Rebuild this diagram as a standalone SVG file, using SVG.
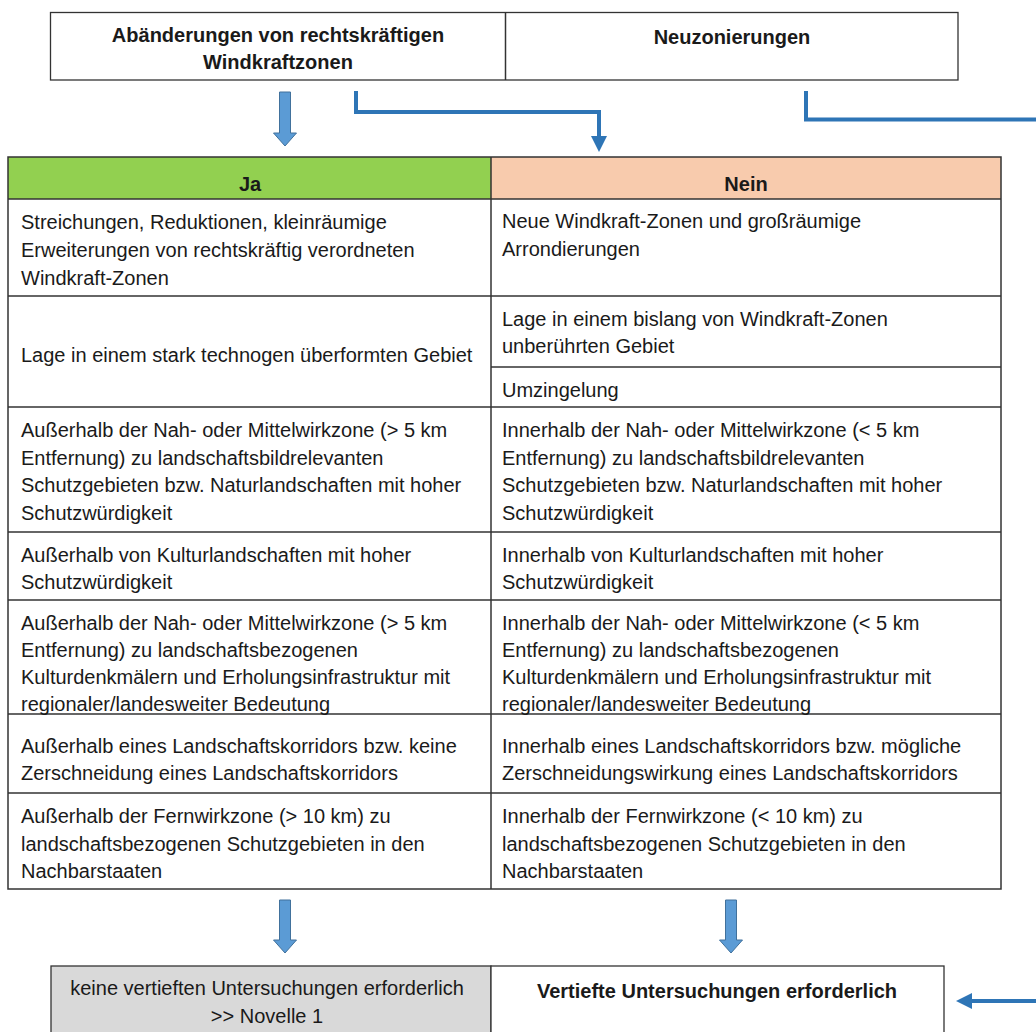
<svg xmlns="http://www.w3.org/2000/svg" width="1036" height="1032" viewBox="0 0 1036 1032">
<defs>
<style>
text{font-family:"Liberation Sans",Arial,sans-serif;font-size:20px;fill:#1a1a1a}
.b{font-weight:bold}
.c{text-anchor:middle}
.box{fill:#fff;stroke:#333;stroke-width:1.3}
.grid{stroke:#333;stroke-width:1.5;fill:none}
.blk{fill:#5B9BD5;stroke:#41719C;stroke-width:1}
.con{fill:none;stroke:#2E75B6;stroke-width:4}
</style>
<marker id="ah" markerUnits="userSpaceOnUse" markerWidth="18" markerHeight="18" refX="0" refY="8" orient="auto" viewBox="0 0 18 16">
<path d="M0,0 L16,8 L0,16 Z" fill="#2E75B6"/>
</marker>
</defs>
<rect width="1036" height="1032" fill="#fff"/>

<g id="top-header">
<rect class="box" x="50.5" y="12.5" width="907.5" height="67.5"/>
<line class="grid" x1="505.5" y1="12.5" x2="505.5" y2="80"/>
<text class="b c" x="278" y="42">Abänderungen von rechtskräftigen</text>
<text class="b c" x="278" y="69">Windkraftzonen</text>
<text class="b c" x="732" y="44">Neuzonierungen</text>
</g>

<g id="table">
<rect x="8" y="157" width="483" height="42" fill="#92D050"/>
<rect x="491" y="157" width="510" height="42" fill="#F8CBAD"/>
<rect class="grid" x="8" y="157" width="993" height="732"/>
<line class="grid" x1="491" y1="157" x2="491" y2="889"/>
<line class="grid" x1="8" y1="199" x2="1001" y2="199"/>
<line class="grid" x1="8" y1="296" x2="1001" y2="296"/>
<line class="grid" x1="491" y1="367" x2="1001" y2="367"/>
<line class="grid" x1="8" y1="407" x2="1001" y2="407"/>
<line class="grid" x1="8" y1="532" x2="1001" y2="532"/>
<line class="grid" x1="8" y1="600" x2="1001" y2="600"/>
<line class="grid" x1="8" y1="714" x2="1001" y2="714"/>
<line class="grid" x1="8" y1="793" x2="1001" y2="793"/>
<text class="b c" x="250" y="191">Ja</text>
<text class="b c" x="746" y="191">Nein</text>

<text x="21" y="229">Streichungen, Reduktionen, kleinräumige</text>
<text x="21" y="257">Erweiterungen von rechtskräftig verordneten</text>
<text x="21" y="285">Windkraft-Zonen</text>
<text x="502" y="228">Neue Windkraft-Zonen und großräumige</text>
<text x="502" y="256">Arrondierungen</text>

<text x="21" y="362">Lage in einem stark technogen überformten Gebiet</text>
<text x="502" y="326">Lage in einem bislang von Windkraft-Zonen</text>
<text x="502" y="353">unberührten Gebiet</text>
<text x="502" y="397">Umzingelung</text>

<text x="21" y="437">Außerhalb der Nah- oder Mittelwirkzone (&gt; 5 km</text>
<text x="21" y="465">Entfernung) zu landschaftsbildrelevanten</text>
<text x="21" y="492">Schutzgebieten bzw. Naturlandschaften mit hoher</text>
<text x="21" y="520">Schutzwürdigkeit</text>
<text x="502" y="437">Innerhalb der Nah- oder Mittelwirkzone (&lt; 5 km</text>
<text x="502" y="465">Entfernung) zu landschaftsbildrelevanten</text>
<text x="502" y="492">Schutzgebieten bzw. Naturlandschaften mit hoher</text>
<text x="502" y="520">Schutzwürdigkeit</text>

<text x="21" y="562">Außerhalb von Kulturlandschaften mit hoher</text>
<text x="21" y="589">Schutzwürdigkeit</text>
<text x="502" y="562">Innerhalb von Kulturlandschaften mit hoher</text>
<text x="502" y="589">Schutzwürdigkeit</text>

<text x="21" y="630">Außerhalb der Nah- oder Mittelwirkzone (&gt; 5 km</text>
<text x="21" y="657">Entfernung) zu landschaftsbezogenen</text>
<text x="21" y="684">Kulturdenkmälern und Erholungsinfrastruktur mit</text>
<text x="21" y="711">regionaler/landesweiter Bedeutung</text>
<text x="502" y="630">Innerhalb der Nah- oder Mittelwirkzone (&lt; 5 km</text>
<text x="502" y="657">Entfernung) zu landschaftsbezogenen</text>
<text x="502" y="684">Kulturdenkmälern und Erholungsinfrastruktur mit</text>
<text x="502" y="711">regionaler/landesweiter Bedeutung</text>

<text x="21" y="753">Außerhalb eines Landschaftskorridors bzw. keine</text>
<text x="21" y="780">Zerschneidung eines Landschaftskorridors</text>
<text x="502" y="753">Innerhalb eines Landschaftskorridors bzw. mögliche</text>
<text x="502" y="780">Zerschneidungswirkung eines Landschaftskorridors</text>

<text x="21" y="823">Außerhalb der Fernwirkzone (&gt; 10 km) zu</text>
<text x="21" y="851">landschaftsbezogenen Schutzgebieten in den</text>
<text x="21" y="878">Nachbarstaaten</text>
<text x="502" y="823">Innerhalb der Fernwirkzone (&lt; 10 km) zu</text>
<text x="502" y="851">landschaftsbezogenen Schutzgebieten in den</text>
<text x="502" y="878">Nachbarstaaten</text>
</g>

<g id="result-no">
<rect x="51" y="966" width="440" height="80" fill="#D9D9D9" stroke="#333" stroke-width="1.3"/>
<text class="c" x="267" y="995">keine vertieften Untersuchungen erforderlich</text>
<text class="c" x="267" y="1023">&gt;&gt; Novelle 1</text>
</g>

<g id="result-yes">
<rect class="box" x="491" y="966" width="453" height="80"/>
<text class="b c" x="717" y="998">Vertiefte Untersuchungen erforderlich</text>
</g>

<g id="connectors">
<path class="blk" d="M279.5,92 H290.5 V133 H296.5 L285,146 L273.5,133 H279.5 Z"/>
<path class="blk" d="M279.5,900 H290.5 V940 H296.5 L285,953 L273.5,940 H279.5 Z"/>
<path class="blk" d="M725.5,900 H736.5 V940 H742.5 L731,953 L719.5,940 H725.5 Z"/>
<path class="con" d="M356,91 V112 H599 V136" marker-end="url(#ah)"/>
<path class="con" d="M806,91 V119.5 H1046 V1001 H972" marker-end="url(#ah)"/>
</g>
</svg>
